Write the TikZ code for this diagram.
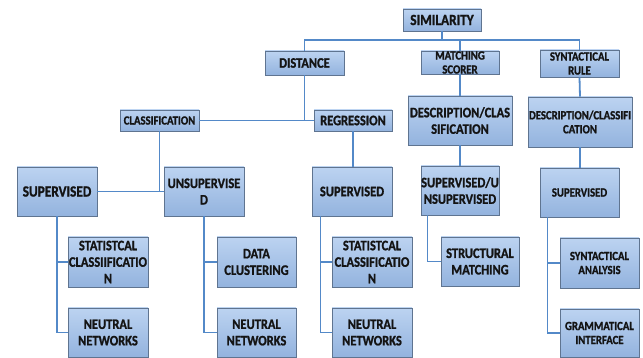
\documentclass[tikz,border=0pt]{standalone}
\usepackage{fontspec}
\setmainfont{Carlito}[FakeStretch=0.86, BoldFont={Carlito Bold}, BoldFeatures={FakeBold=1.2}]
\usetikzlibrary{positioning}
\definecolor{boxtop}{HTML}{BCD3F1}
\definecolor{boxbot}{HTML}{93B3DE}
\definecolor{boxedge}{HTML}{5F7490}
\definecolor{wire}{HTML}{5389C8}
\definecolor{ink}{HTML}{141414}
\tikzset{
  bx/.style n args={2}{draw=boxedge, line width=0.9pt, top color=boxtop, bottom color=boxbot,
    minimum width=#1pt, minimum height=#2pt, inner sep=0pt, align=center,
    text=ink, font=\bfseries\fontsize{14.5}{16.5}\selectfont},
  mid/.style={font=\bfseries\fontsize{12.5}{14}\selectfont},
  big/.style={font=\bfseries\fontsize{15.5}{17}\selectfont},
  wl/.style={draw=wire, line width=1.8pt}
}
\begin{document}
\begin{tikzpicture}[x=1pt,y=-1pt]
\useasboundingbox (0,0) rectangle (643,358);
% level 0
\node[bx={78}{22}, big] (sim) at (442,20) {SIMILARITY};
% level 1
\node[bx={79}{24}] (dist) at (304.5,63) {DISTANCE};
\node[bx={78}{23}, mid] (match) at (460,62.5) {MATCHING\\SCORER};
\node[bx={79}{27}, mid] (synt) at (579.5,63.5) {SYNTACTICAL\\RULE};
% level 2
\node[bx={79}{21}, mid] (class) at (159.5,120.5) {CLASSIFICATION};
\node[bx={78}{21}] (regr) at (353,120.5) {REGRESSION};
\node[bx={104}{49}] (desc1) at (460,120.5) {DESCRIPTION/CLAS\\SIFICATION};
\node[bx={104}{50}, mid] (desc2) at (580,122) {DESCRIPTION/CLASSIFI\\CATION};
% level 3
\node[bx={80}{49}, big] (sup1) at (57,191.5) {SUPERVISED};
\node[bx={80}{49}] (unsup) at (204,191.5) {UNSUPERVISE\\D};
\node[bx={80}{49}] (sup2) at (352,191.5) {SUPERVISED};
\node[bx={78}{49}] (supun) at (460,190.5) {SUPERVISED/U\\NSUPERVISED};
\node[bx={79}{49}, mid] (sup3) at (579.5,192.5) {SUPERVISED};
% leaves
\node[bx={80}{50}] (stat1) at (108,262) {STATISTCAL\\CLASSIIFICATIO\\N};
\node[bx={80}{49}] (nn1) at (108,332.5) {NEUTRAL\\NETWORKS};
\node[bx={79}{50}] (data) at (256.5,262) {DATA\\CLUSTERING};
\node[bx={79}{49}] (nn2) at (256.5,332.5) {NEUTRAL\\NETWORKS};
\node[bx={80}{50}] (stat2) at (372,262) {STATISTCAL\\CLASSIFICATIO\\N};
\node[bx={80}{49}] (nn3) at (372,332.5) {NEUTRAL\\NETWORKS};
\node[bx={78}{49}] (struct) at (480,261.5) {STRUCTURAL\\MATCHING};
\node[bx={79}{50}, mid] (synan) at (599.5,263) {SYNTACTICAL\\ANALYSIS};
\node[bx={79}{48}, mid] (gram) at (599.5,333) {GRAMMATICAL\\INTERFACE};
% bus
\coordinate (busL) at (304.5,40);
\coordinate (busR) at (579.5,40);
\draw[wl] (dist.north) -- (busL) -- (busR) -- (synt.north);
\draw[wl] (sim.south) -- (sim.south |- busL);
\draw[wl] (match.north) -- (match.north |- busL);
% level 1 -> 2
\draw[wl] (dist.south) -- (dist.south |- class.east);
\draw[wl] (class.east) -- (regr.west);
\draw[wl] (match.south) -- (desc1.north);
\draw[wl] (synt.south) -- (desc2.north);
% level 2 -> 3
\draw[wl] (class.south) -- (class.south |- sup1.east);
\draw[wl] (sup1.east) -- (unsup.west);
\draw[wl] (regr.south) -- (regr.south |- sup2.north);
\draw[wl] (desc1.south) -- (supun.north);
\draw[wl] (desc2.south) -- (desc2.south |- sup3.north);
% level 3 -> leaves
\draw[wl] (sup1.south) |- (stat1.west);
\draw[wl] (sup1.south) |- (nn1.west);
\draw[wl] (unsup.south) |- (data.west);
\draw[wl] (unsup.south) |- (nn2.west);
\draw[wl] ([xshift=9pt]sup2.south west) |- (stat2.west);
\draw[wl] ([xshift=9pt]sup2.south west) |- (nn3.west);
\draw[wl] ([xshift=7pt]supun.south west) |- (struct.west);
\draw[wl] ([xshift=8pt]sup3.south west) |- (synan.west);
\draw[wl] ([xshift=8pt]sup3.south west) |- (gram.west);
\end{tikzpicture}
\end{document}
